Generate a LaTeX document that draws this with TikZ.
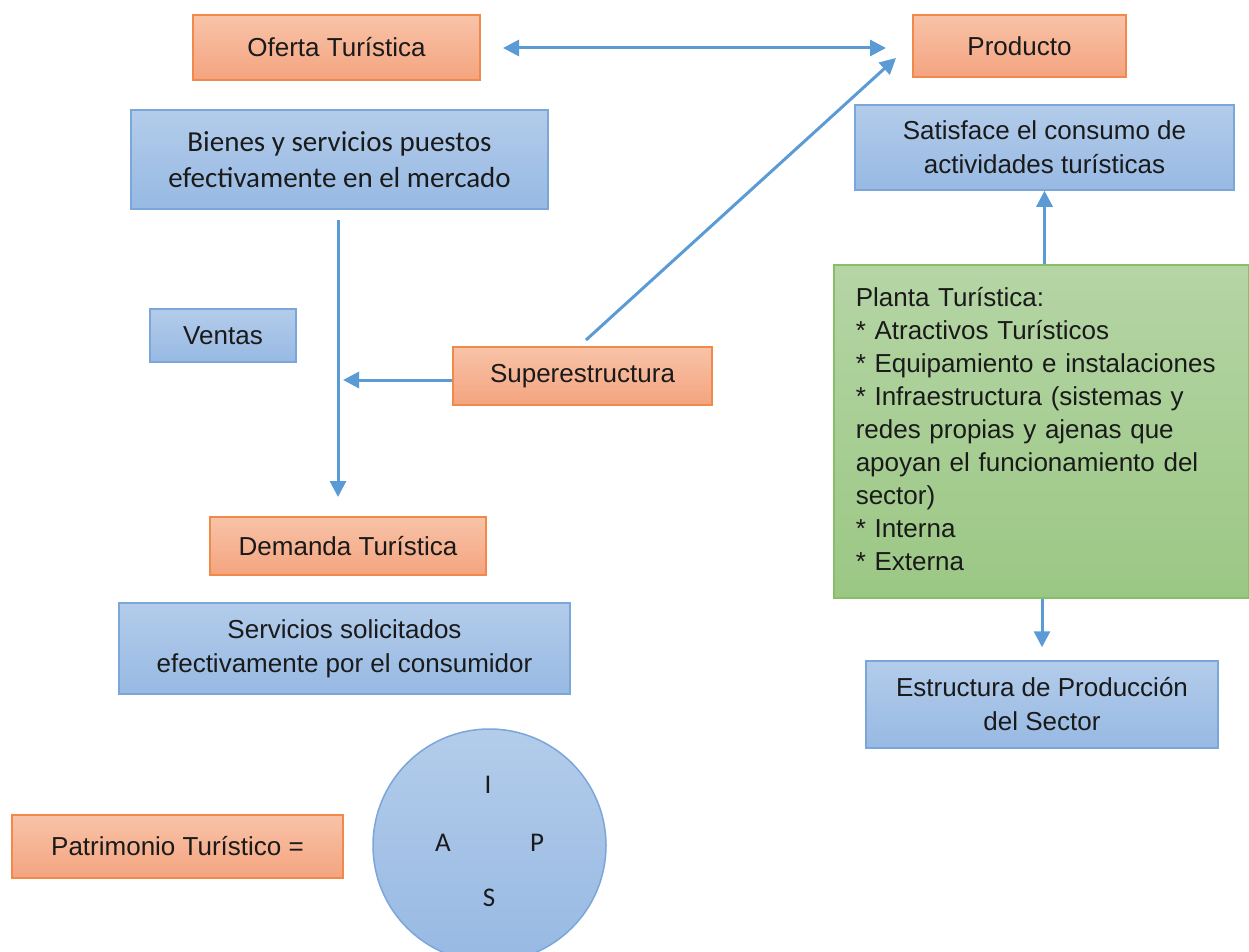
\documentclass[tikz,border=0pt]{standalone}
\usepackage{fontspec}
\setmainfont{Liberation Sans}
\newfontfamily\calibri{Carlito}
\usetikzlibrary{arrows.meta}
\definecolor{orTop}{HTML}{F8C3A8}
\definecolor{orBot}{HTML}{F4A47F}
\definecolor{orLine}{HTML}{F0894A}
\definecolor{blTop}{HTML}{B3CCEA}
\definecolor{blBot}{HTML}{97B9E3}
\definecolor{blLine}{HTML}{7AA6DA}
\definecolor{grTop}{HTML}{B5D5A5}
\definecolor{grBot}{HTML}{9BC784}
\definecolor{grLine}{HTML}{88BE68}
\definecolor{arrowc}{HTML}{5B9BD5}
\definecolor{txt}{HTML}{1A1A1A}
\tikzset{
  box/.style={rectangle, line width=1.5pt, inner sep=0pt, align=center, text=txt,
    font=\fontsize{26}{34}\selectfont},
  orangebox/.style={box, draw=orLine, top color=orTop, bottom color=orBot},
  bluebox/.style={box, draw=blLine, top color=blTop, bottom color=blBot},
  greenbox/.style={box, draw=grLine, top color=grTop, bottom color=grBot},
  conn/.style={draw=arrowc, line width=3pt, -{Triangle[length=16pt,width=16pt]}},
  biconn/.style={draw=arrowc, line width=3pt, {Triangle[length=16pt,width=16pt]}-{Triangle[length=16pt,width=16pt]}},
  letter/.style={text=txt, font=\calibri\fontsize{27}{30}\selectfont, inner sep=0pt}
}
\begin{document}
\begin{tikzpicture}[x=1pt,y=-1pt]
\useasboundingbox (0,0) rectangle (1249,952);
\clip (0,0) rectangle (1249,952);

\node[orangebox, minimum width=287pt, minimum height=65pt] (oferta) at (336.5,47.5) {Oferta Turística};
\node[orangebox, minimum width=213pt, minimum height=62pt] (producto) at (1019.5,46) {Producto};
\node[bluebox, minimum width=417pt, minimum height=99pt, font=\calibri\fontsize{29}{36}\selectfont] (bienes) at (339.5,159.5) {Bienes y servicios puestos\\efectivamente en el mercado};
\node[bluebox, minimum width=379pt, minimum height=85pt] (satisface) at (1044.5,147.5) {Satisface el consumo de\\actividades turísticas};
\node[bluebox, minimum width=146pt, minimum height=53pt] (ventas) at (223,335.5) {Ventas};
\node[orangebox, minimum width=259pt, minimum height=58pt] (super) at (582.5,376) {Superestructura};
\node[greenbox, minimum height=333pt, text width=371pt, inner xsep=22pt, align=left,
  font=\fontsize{26}{33}\selectfont, anchor=north west] (planta) at (833,264)
  {Planta Turística:\\{}* Atractivos Turísticos\\{}* Equipamiento e instalaciones\\{}* Infraestructura (sistemas y\\redes propias y ajenas que\\apoyan el funcionamiento del\\sector)\\{}* Interna\\{}* Externa\vphantom{y}};
\node[orangebox, minimum width=276pt, minimum height=58pt] (demanda) at (348,546) {Demanda Turística};
\node[bluebox, minimum width=451pt, minimum height=91pt] (servicios) at (344.5,648.5) {Servicios solicitados\\efectivamente por el consumidor};
\node[bluebox, minimum width=352pt, minimum height=87pt] (estructura) at (1042,704.5) {Estructura de Producción\\del Sector};
\node[orangebox, minimum width=331pt, minimum height=63pt] (patrimonio) at (177.5,846.5) {Patrimonio Turístico =};
\node[circle, draw=blLine, line width=1.5pt, top color=blTop, bottom color=blBot, minimum size=233pt, inner sep=0pt] (ciclo) at (489.5,845.5) {};
\node[letter] (li) at (488,785) {I};
\node[letter] (la) at (443,843) {A};
\node[letter] (lp) at (537,843) {P};
\node[letter] (ls) at (489,898) {S};

\coordinate (vtop) at (338,220);
\coordinate (vbot) at (338,497);
\coordinate (vmid) at (343,380);
\coordinate (dstart) at (586,340);
\coordinate (dtip) at (896,58);
\coordinate (hl) at (503,48);
\coordinate (hr) at (886,48);

\draw[biconn] (hl) -- (hr);
\draw[conn] (dstart) -- (dtip);
\draw[conn] (vtop) -- (vbot);
\draw[conn] (super.west |- vmid) -- (vmid);
\draw[conn] (satisface.south |- planta.north) -- (satisface.south);
\draw[conn, shorten >=13pt] (estructura.north |- planta.south) -- (estructura.north);
\end{tikzpicture}
\end{document}
